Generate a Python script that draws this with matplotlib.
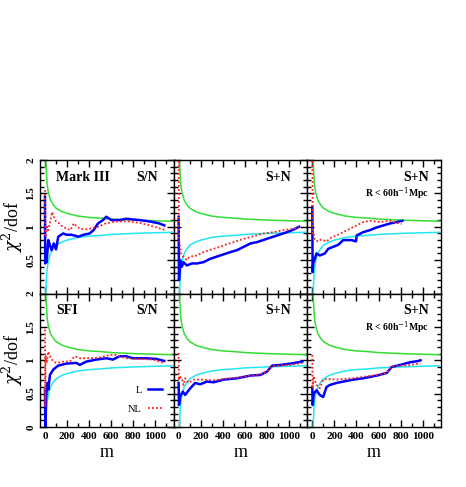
import matplotlib
matplotlib.use("Agg")
import matplotlib.pyplot as plt
from matplotlib.ticker import MultipleLocator

# ---------------- data ----------------
# theoretical 2-sigma bounds (same in all panels)
m_green = [1, 2, 5, 10, 20, 30, 50, 75, 100, 150, 200, 300, 400, 500, 600, 800, 1000, 1150]
v_green = [3.8, 3.0, 2.27, 1.89, 1.63, 1.52, 1.40, 1.33, 1.28, 1.23, 1.20, 1.16, 1.14, 1.13, 1.115, 1.10, 1.09, 1.083]
m_cyan = [1, 5, 8, 10, 15, 20, 30, 50, 75, 100, 150, 200, 300, 400, 500, 600, 800, 1000, 1150]
v_cyan = [-1.8, -0.27, 0.0, 0.11, 0.27, 0.37, 0.48, 0.60, 0.67, 0.72, 0.77, 0.80, 0.84, 0.86, 0.87, 0.885, 0.90, 0.91, 0.917]

# Panel 1: Mark III, S/N
m_L1 = [0, 2, 8, 15, 30, 45, 60, 80, 100, 120, 165, 195, 240, 285, 300, 350, 405, 440, 480, 525, 555, 600, 675, 735, 855, 945, 1035, 1080]
v_L1 = [1.45, 0.45, 0.6, 0.47, 0.8, 0.72, 0.65, 0.75, 0.66, 0.85, 0.9, 0.88, 0.88, 0.86, 0.85, 0.88, 0.9, 0.95, 1.05, 1.1, 1.15, 1.1, 1.1, 1.12, 1.1, 1.08, 1.05, 1.02]
m_NL1 = [0, 3, 10, 20, 30, 50, 65, 80, 100, 130, 160, 200, 230, 260, 290, 320, 380, 430, 480, 550, 650, 750, 850, 950, 1030, 1090]
v_NL1 = [1.55, 0.85, 0.9, 1.0, 0.95, 1.1, 1.22, 1.15, 1.08, 1.05, 1.0, 0.97, 0.95, 1.05, 1.0, 0.97, 0.96, 0.98, 1.0, 1.05, 1.08, 1.08, 1.06, 1.02, 0.98, 0.95]

# Panel 2: S+N
m_L2 = [0, 3, 14, 29, 44, 74, 120, 165, 226, 286, 377, 468, 529, 590, 650, 710, 800, 892, 983, 1044, 1090]
v_L2 = [1.15, 0.2, 0.5, 0.4, 0.47, 0.42, 0.45, 0.45, 0.47, 0.52, 0.57, 0.62, 0.65, 0.70, 0.75, 0.77, 0.82, 0.87, 0.92, 0.96, 1.0]
m_NL2 = [0, 4, 10, 20, 44, 74, 100, 165, 226, 317, 408, 500, 590, 680, 770, 862, 953, 1044, 1090]
v_NL2 = [2.1, 0.8, 0.75, 0.6, 0.55, 0.5, 0.55, 0.57, 0.62, 0.67, 0.72, 0.77, 0.82, 0.86, 0.9, 0.92, 0.95, 0.97, 0.99]

# Panel 3: S+N, R < 60 h^-1 Mpc
m_L3 = [0, 3, 8, 38, 68, 114, 144, 190, 235, 280, 310, 356, 395, 402, 462, 523, 583, 644, 705, 765, 815]
v_L3 = [1.3, 0.32, 0.45, 0.6, 0.57, 0.6, 0.67, 0.7, 0.73, 0.8, 0.8, 0.8, 0.78, 0.87, 0.92, 0.95, 0.99, 1.02, 1.05, 1.07, 1.09]
m_NL3 = [0, 5, 10, 23, 53, 83, 128, 174, 220, 280, 340, 400, 462, 523, 614, 705, 765, 810]
v_NL3 = [2.1, 0.9, 0.92, 0.8, 0.78, 0.81, 0.78, 0.84, 0.87, 0.92, 0.97, 1.02, 1.07, 1.09, 1.07, 1.09, 1.06, 1.04]

# Panel 4: SFI, S/N
m_L4 = [0, 3, 9, 21, 30, 45, 75, 120, 195, 285, 315, 375, 465, 555, 615, 675, 735, 795, 915, 1005, 1080]
v_L4 = [0.56, 0.0, 0.41, 0.66, 0.56, 0.78, 0.86, 0.92, 0.95, 0.96, 0.93, 0.98, 1.01, 1.03, 1.01, 1.06, 1.06, 1.03, 1.03, 1.02, 0.99]
m_NL4 = [0, 3, 6, 15, 30, 45, 75, 105, 165, 225, 270, 315, 405, 495, 585, 645, 735, 855, 975, 1080]
v_NL4 = [1.46, 0.3, 1.06, 0.96, 1.13, 1.06, 0.98, 0.96, 0.98, 0.98, 1.06, 1.03, 1.03, 1.04, 1.08, 1.08, 1.03, 1.02, 1.01, 0.96]

# Panel 5: S+N
m_L5 = [0, 3, 14, 38, 59, 105, 150, 195, 256, 317, 408, 529, 650, 740, 800, 847, 923, 1014, 1120]
v_L5 = [0.66, 0.33, 0.46, 0.53, 0.48, 0.58, 0.66, 0.64, 0.68, 0.67, 0.71, 0.73, 0.77, 0.78, 0.83, 0.92, 0.93, 0.95, 0.98]
m_NL5 = [0, 3, 8, 29, 44, 59, 90, 135, 195, 317, 408, 529, 650, 740, 800, 847, 923, 1014, 1120]
v_NL5 = [1.11, 0.7, 0.76, 0.73, 0.63, 0.73, 0.66, 0.71, 0.71, 0.70, 0.72, 0.74, 0.77, 0.79, 0.83, 0.91, 0.92, 0.93, 0.96]

# Panel 6: S+N, R < 60 h^-1 Mpc
m_L6 = [0, 3, 13, 38, 68, 98, 129, 159, 220, 280, 371, 462, 583, 674, 720, 795, 886, 962, 980]
v_L6 = [0.6, 0.33, 0.5, 0.55, 0.48, 0.45, 0.6, 0.63, 0.66, 0.68, 0.71, 0.73, 0.77, 0.81, 0.9, 0.93, 0.97, 0.99, 1.0]
m_NL6 = [0, 3, 13, 38, 68, 98, 144, 220, 371, 583, 674, 720, 886, 962, 980]
v_NL6 = [1.08, 0.6, 0.76, 0.63, 0.58, 0.71, 0.72, 0.71, 0.73, 0.78, 0.81, 0.91, 0.93, 0.95, 0.95]

panel_left = ["Mark III", "", "", "SFI", "", ""]
panel_right = ["S/N", "S+N", "S+N", "S/N", "S+N", "S+N"]
panel_extra = ["", "", "R < 60h$^{-1}$Mpc", "", "", "R < 60h$^{-1}$Mpc"]
series_L = [(m_L1, v_L1), (m_L2, v_L2), (m_L3, v_L3), (m_L4, v_L4), (m_L5, v_L5), (m_L6, v_L6)]
series_NL = [(m_NL1, v_NL1), (m_NL2, v_NL2), (m_NL3, v_NL3), (m_NL4, v_NL4), (m_NL5, v_NL5), (m_NL6, v_NL6)]
xticks = [0, 200, 400, 600, 800, 1000]
yticks = [0, 0.5, 1, 1.5, 2]

# ---------------- figure ----------------
plt.rcParams['font.family'] = ['Liberation Serif', 'DejaVu Serif']
plt.rcParams['mathtext.fontset'] = 'dejavuserif'

fig = plt.figure(figsize=(4.66, 4.87), dpi=100)
gs = fig.add_gridspec(2, 3, left=40/466, right=441/466, top=1-160/487, bottom=1-427/487,
                      wspace=0, hspace=0)

GREEN = '#33dd33'
CYAN = '#22e6f2'

for i in range(6):
    r, c = divmod(i, 3)
    ax = fig.add_subplot(gs[r, c])
    ax.plot(m_green, v_green, color=GREEN, lw=1.1, zorder=2)
    ax.plot(m_cyan, v_cyan, color=CYAN, lw=1.1, zorder=2)
    mL, vL = series_L[i]
    mN, vN = series_NL[i]
    lL, = ax.plot(mL, vL, color='#0000ff', lw=1.8, zorder=3)
    lN, = ax.plot(mN, vN, color='#ff2020', lw=1.3, ls=(0, (1, 1.2)), zorder=4)
    ax.set_xlim(-45, 1165)
    ax.set_ylim(0, 2)
    ax.xaxis.set_major_locator(MultipleLocator(200))
    ax.xaxis.set_minor_locator(MultipleLocator(100))
    ax.yaxis.set_major_locator(MultipleLocator(0.5))
    ax.yaxis.set_minor_locator(MultipleLocator(0.1))
    ax.tick_params(which='both', direction='in', top=True, right=True, width=1.0, labelsize=8)
    ax.tick_params(which='major', length=5)
    ax.tick_params(which='minor', length=3)
    for s in ax.spines.values():
        s.set_linewidth(1.0)

    if c == 0:
        ax.set_yticks(yticks if r == 1 else yticks[1:])
        ax.set_yticklabels([("%g" % t) for t in (yticks if r == 1 else yticks[1:])],
                           rotation=90, va='center', fontweight='bold')
        ax.set_ylabel(r"$\chi^2$/dof", fontsize=13, labelpad=1)
    else:
        ax.set_yticklabels([])
    if r == 1:
        ax.set_xticks(xticks)
        ax.set_xticklabels([str(t) for t in xticks], fontweight='bold')
        ax.set_xlabel("m", fontsize=13, labelpad=2)
    else:
        ax.set_xticklabels([])

    if panel_left[i]:
        ax.text(0.12, 0.87, panel_left[i], transform=ax.transAxes, fontsize=10,
                fontweight='bold', ha='left', va='center')
    ax.text(0.88 if c < 2 else 0.91, 0.87, panel_right[i], transform=ax.transAxes,
            fontsize=10, fontweight='bold', ha='right', va='center')
    if panel_extra[i]:
        ax.text(0.91, 0.745, panel_extra[i], transform=ax.transAxes, fontsize=7,
                fontweight='bold', ha='right', va='center')

    if i == 3:
        ax.legend([lL, lN], ["L", "NL"], loc='lower right', bbox_to_anchor=(0.98, 0.03),
                  frameon=False, fontsize=7.5, markerfirst=False, handlelength=1.3,
                  handletextpad=0.6, labelspacing=0.9)

fig.savefig("out.png", dpi=100)
